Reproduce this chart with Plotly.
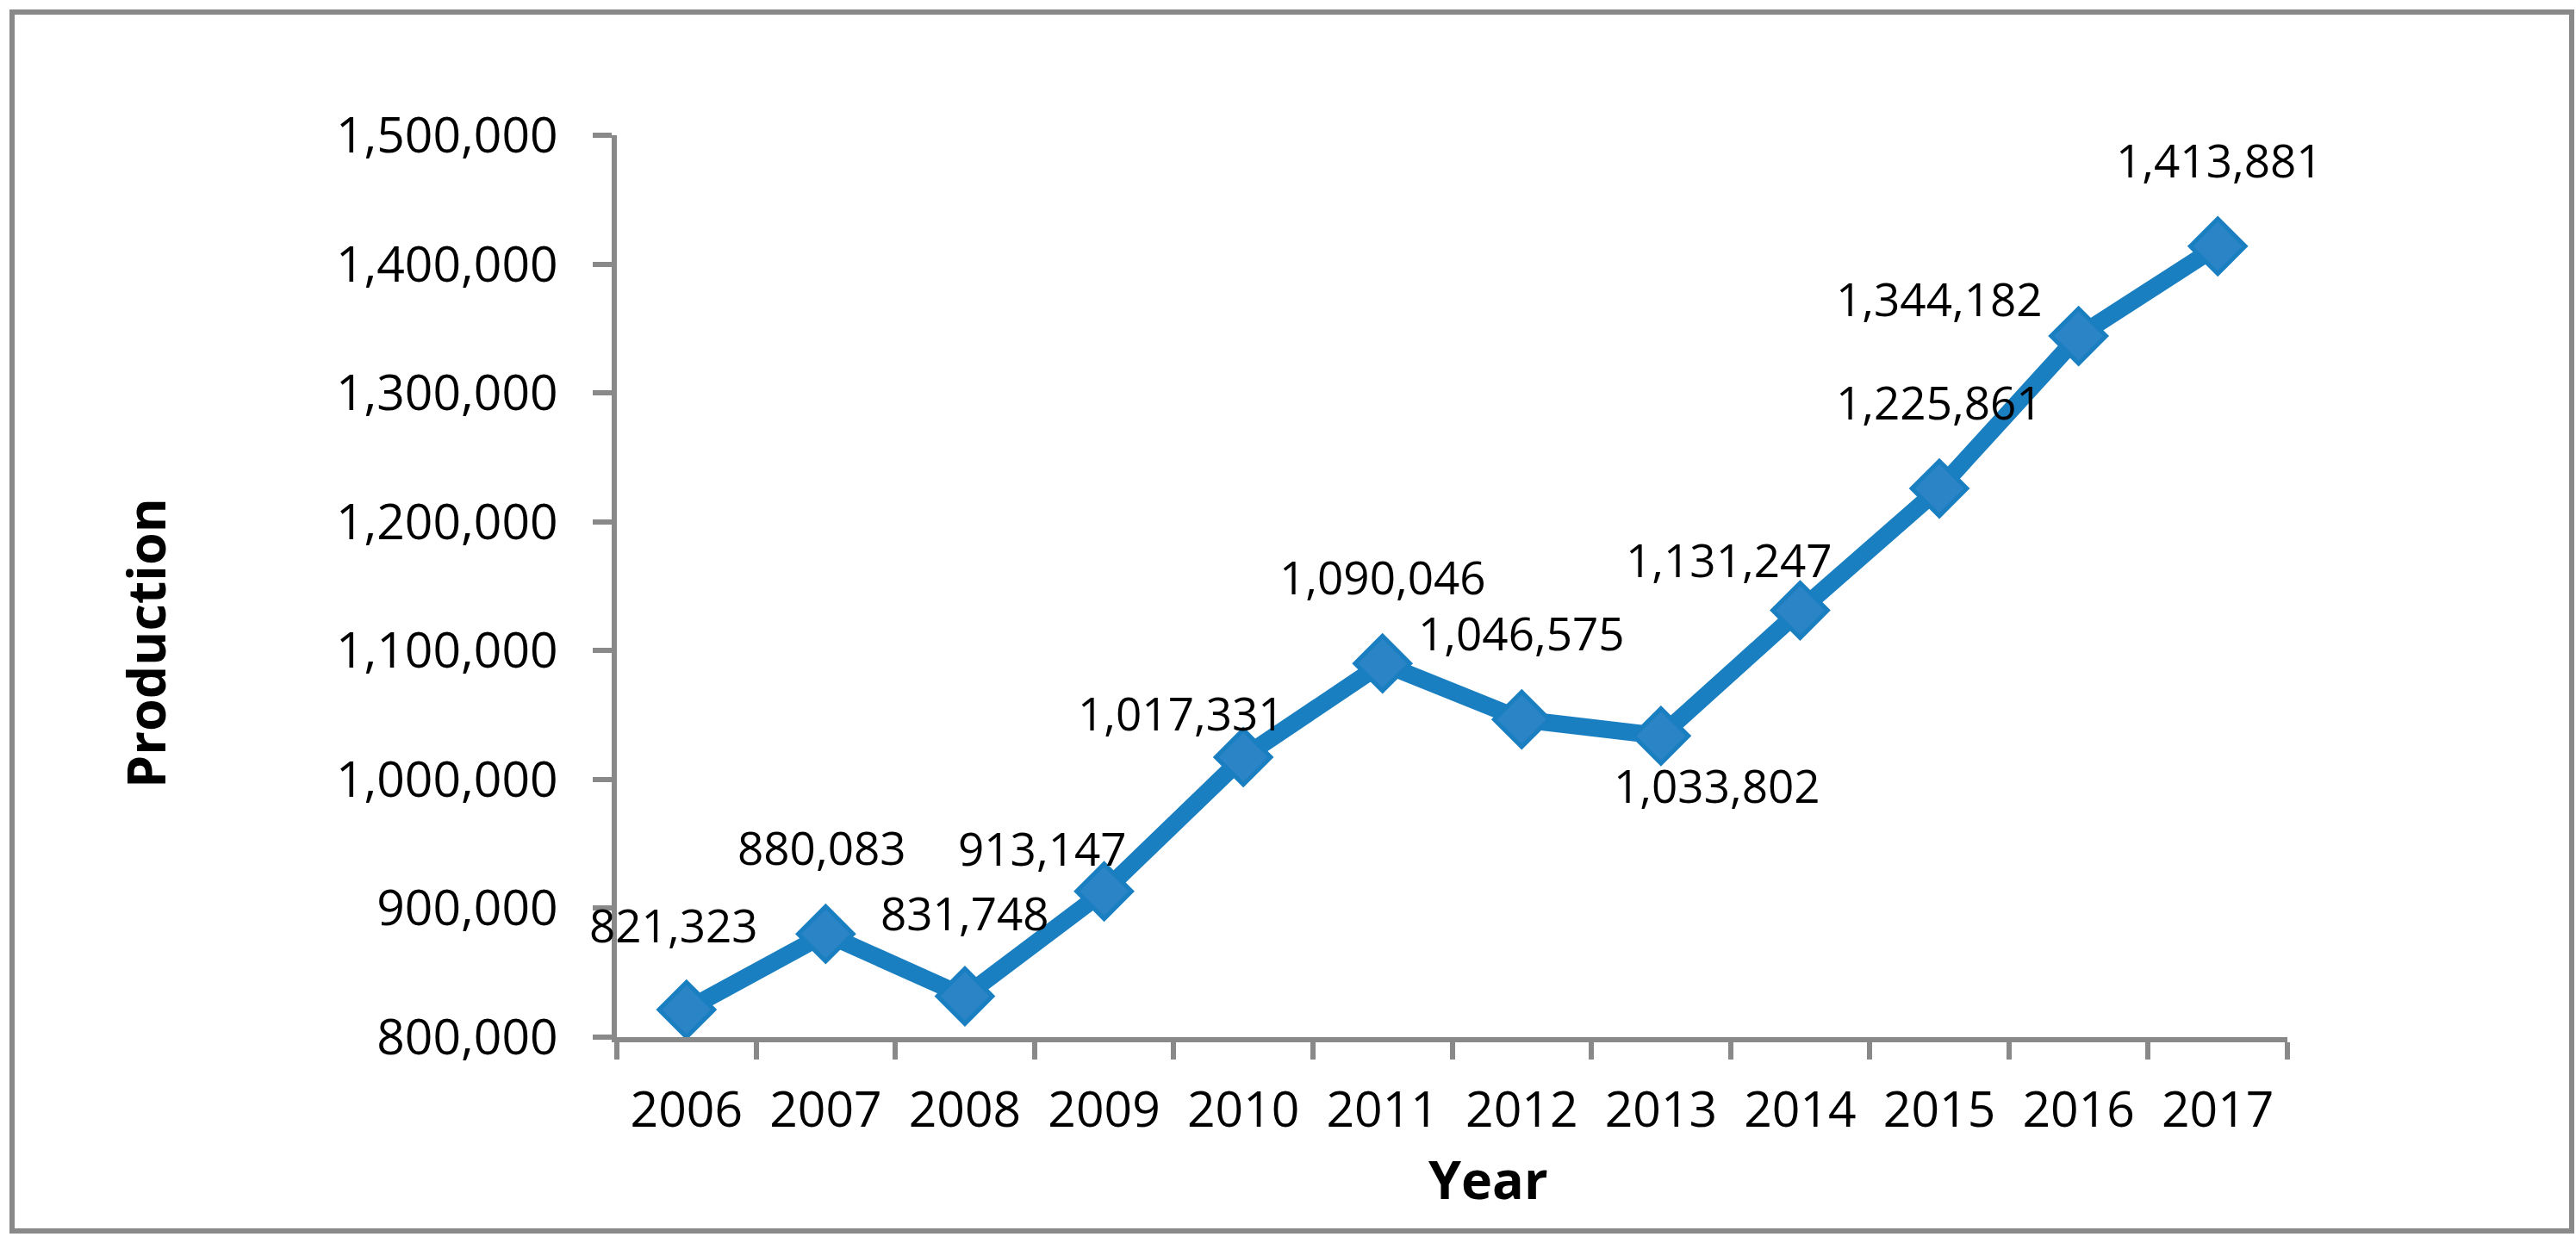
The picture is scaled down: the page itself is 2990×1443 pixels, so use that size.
import plotly.graph_objects as go

years = ["2006", "2007", "2008", "2009", "2010", "2011", "2012", "2013", "2014", "2015", "2016", "2017"]
production = [821323, 880083, 831748, 913147, 1017331, 1090046, 1046575, 1033802, 1131247, 1225861, 1344182, 1413881]
y_ticks = [800000, 900000, 1000000, 1100000, 1200000, 1300000, 1400000, 1500000]
# label offsets (pixels) relative to each point, as placed in the source chart
label_dx = [-15, -4, 0, -72, -72, 0, 0, 65, -82, 0, -162, 2]
label_dy = [-99, -101, -97, -50, -51, -101, -101, 57, -59, -101, -44, -100]

W, H = 2990, 1443
L, R, T, B = 716, 2990 - 2655, 157, 1443 - 1204
pw, ph = W - L - R, H - T - B

GRAY = "#898989"
BLUE = "#1a7fc1"
FILL = "#2a84c5"
TICKFONT = dict(family="Open Sans, sans-serif", size=57, color="black")
LABELFONT = dict(family="Open Sans, sans-serif", size=53, color="black")
TITLEFONT = dict(family="Open Sans, sans-serif", size=61, color="black", weight="bold")

fig = go.Figure()
fig.add_trace(go.Scatter(
    x=years, y=production, mode="lines+markers",
    line=dict(color=BLUE, width=20),
    marker=dict(symbol="diamond", size=49, color=FILL, line=dict(color=BLUE, width=5)),
    cliponaxis=False, hoverinfo="skip", showlegend=False,
))

for i, (v, dx, dy) in enumerate(zip(production, label_dx, label_dy)):
    fig.add_annotation(x=i, y=v, xref="x", yref="y", text=f"{v:,}", showarrow=False,
                       xshift=dx, yshift=-dy, font=LABELFONT, xanchor="center", yanchor="middle")

def px_x(px):
    return (px - L) / pw

def px_y(py):
    return (H - B - py) / ph

fig.add_annotation(text="Year", xref="paper", yref="paper", x=px_x(1727), y=px_y(1368),
                   showarrow=False, font=TITLEFONT, xanchor="center", yanchor="middle")
fig.add_annotation(text="Production", xref="paper", yref="paper", x=px_x(168), y=px_y(747),
                   showarrow=False, font=TITLEFONT, textangle=-90, xanchor="center", yanchor="middle")

fig.add_shape(type="rect", xref="paper", yref="paper",
              x0=px_x(14), x1=px_x(2985), y0=px_y(1429), y1=px_y(14),
              line=dict(color=GRAY, width=6), fillcolor="rgba(0,0,0,0)", layer="below")

fig.update_layout(
    width=W, height=H, autosize=False,
    margin=dict(l=L, r=R, t=T, b=B, pad=0),
    paper_bgcolor="white", plot_bgcolor="white",
    xaxis=dict(type="category", range=[-0.5, len(years) - 0.5], tickson="boundaries",
               ticks="outside", ticklen=20, tickwidth=6, tickcolor=GRAY,
               showline=True, linecolor=GRAY, linewidth=6, showgrid=False, zeroline=False,
               tickfont=TICKFONT, ticklabelstandoff=30, fixedrange=True),
    yaxis=dict(range=[y_ticks[0], y_ticks[-1]], tickvals=y_ticks, tickformat=",",
               ticks="outside", ticklen=22, tickwidth=6, tickcolor=GRAY,
               showline=True, linecolor=GRAY, linewidth=6, showgrid=False, zeroline=False,
               tickfont=TICKFONT, ticklabelstandoff=29, fixedrange=True),
)

fig.write_html("out.html", config={"displayModeBar": False},
               post_script="document.body.style.margin='0';document.body.style.overflow='hidden';")
